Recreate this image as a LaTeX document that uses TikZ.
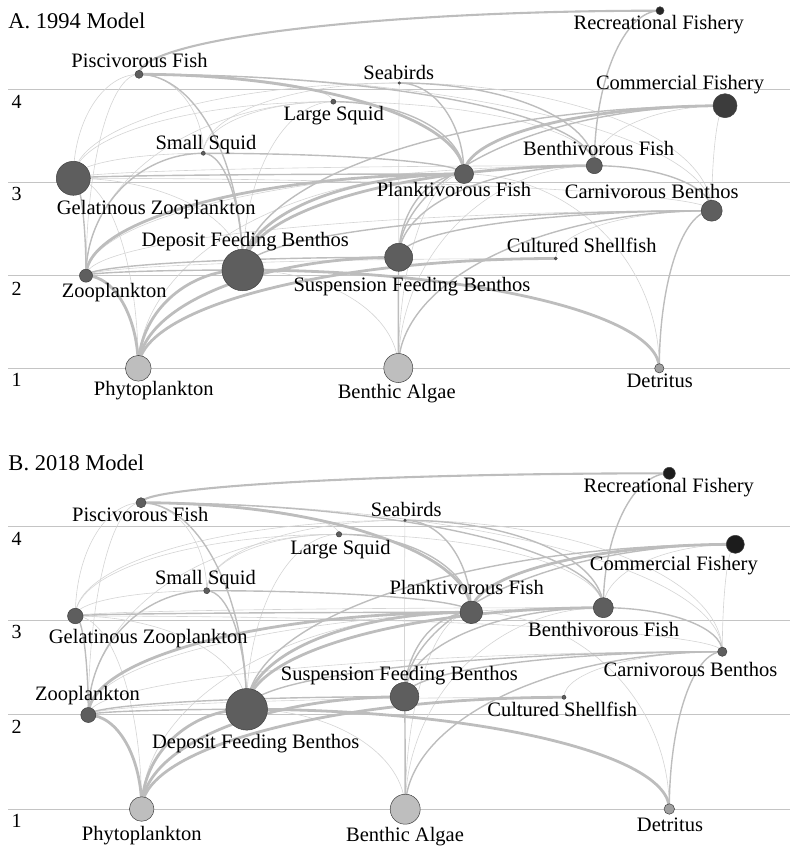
\documentclass[tikz,border=0pt]{standalone}
\usepackage{fontspec}
\setmainfont{Liberation Serif}
\usetikzlibrary{calc}
\pgfdeclarelayer{bg}
\pgfsetlayers{bg,main}
\definecolor{dk}{HTML}{5E5E5E}
\definecolor{lt}{HTML}{BEBEBE}
\definecolor{dt}{HTML}{A0A0A0}
\definecolor{fa}{HTML}{262626}
\definecolor{fb}{HTML}{3C3C3C}
\definecolor{fc}{HTML}{1C1C1C}
\definecolor{edgegrey}{HTML}{BDBDBD}
\definecolor{edgelight}{HTML}{D4D4D4}
\definecolor{lvlgrey}{HTML}{C4C4C4}
\tikzset{
  sp/.style={circle, draw=black!75, line width=0.5pt, inner sep=0pt},
  lbl/.style={inner sep=0pt, anchor=base, font=\fontsize{20.5}{24}\selectfont},
  ttl/.style={inner sep=0pt, anchor=base west, font=\fontsize{22.5}{26}\selectfont},
  lvnum/.style={inner sep=0pt, anchor=base west, font=\fontsize{20}{24}\selectfont},
  lvl/.style={draw=lvlgrey, line width=0.9pt},
  thinE/.style={draw=edgelight, line width=0.6pt},
  medE/.style={draw=edgegrey, line width=1.4pt},
  heavyE/.style={draw=edgegrey, line width=2.1pt},
  thickE/.style={draw=edgegrey, line width=2.8pt},
}
% edge: quarter-ellipse from upper node (leaves horizontally) to lower node (arrives vertically)
\newcommand\fw[3]{%
  \path (#1.center); \pgfgetlastxy{\fwxa}{\fwya}%
  \path (#2.center); \pgfgetlastxy{\fwxb}{\fwyb}%
  \ifdim\fwya>\fwyb\relax
    \draw[#3] (#1.center) .. controls ($(#1.center)!0.55!(#2.center|-#1.center)$) and ($(#2.center)!0.55!(#2.center|-#1.center)$) .. (#2.center);%
  \else
    \draw[#3] (#2.center) .. controls ($(#2.center)!0.55!(#1.center|-#2.center)$) and ($(#1.center)!0.55!(#1.center|-#2.center)$) .. (#1.center);%
  \fi}
\newcommand\web[1]{%
 \fw{#1PiF}{#1SS}{thinE}
 \fw{#1PiF}{#1LS}{thinE}
 \fw{#1PiF}{#1GZ}{thinE}
 \fw{#1PiF}{#1Z}{thinE}
 \fw{#1PiF}{#1CB}{thinE}
 \fw{#1CF}{#1BF}{thinE}
 \fw{#1CF}{#1CB}{thinE}
 \fw{#1SB}{#1SFB}{thinE}
 \fw{#1SB}{#1SS}{thinE}
 \fw{#1SB}{#1CB}{thinE}
 \fw{#1SB}{#1GZ}{thinE}
 \fw{#1LS}{#1SS}{thinE}
 \fw{#1LS}{#1DFB}{thinE}
 \fw{#1LS}{#1Z}{thinE}
 \fw{#1LS}{#1BF}{thinE}
 \fw{#1LS}{#1GZ}{thinE}
 \fw{#1SS}{#1GZ}{thinE}
 \fw{#1GZ}{#1P}{thinE}
 \fw{#1BF}{#1GZ}{thinE}
 \fw{#1CB}{#1GZ}{thinE}
 \fw{#1PF}{#1D}{thinE}
 \fw{#1PF}{#1P}{thinE}
 \fw{#1PF}{#1BA}{thinE}
 \fw{#1BF}{#1Z}{thinE}
 \fw{#1BF}{#1BA}{thinE}
 \fw{#1CB}{#1CS}{thinE}
 \fw{#1CB}{#1Z}{thinE}
 \fw{#1CS}{#1Z}{thinE}
 \fw{#1DFB}{#1BA}{thinE}
 \fw{#1GZ}{#1DFB}{thinE}
 \fw{#1BF}{#1RF}{medE}
 \fw{#1CF}{#1SFB}{medE}
 \fw{#1CF}{#1DFB}{medE}
 \fw{#1PiF}{#1DFB}{medE}
 \fw{#1PiF}{#1BF}{medE}
 \fw{#1SB}{#1PF}{medE}
 \fw{#1SB}{#1BF}{medE}
 \fw{#1LS}{#1PF}{medE}
 \fw{#1SS}{#1Z}{medE}
 \fw{#1SS}{#1DFB}{medE}
 \fw{#1SS}{#1PF}{medE}
 \fw{#1GZ}{#1Z}{medE}
 \fw{#1PF}{#1GZ}{medE}
 \fw{#1PF}{#1SFB}{medE}
 \fw{#1BF}{#1SFB}{medE}
 \fw{#1BF}{#1CB}{medE}
 \fw{#1CB}{#1DFB}{medE}
 \fw{#1CB}{#1SFB}{medE}
 \fw{#1CB}{#1D}{medE}
 \fw{#1CB}{#1BA}{medE}
 \fw{#1DFB}{#1Z}{medE}
 \fw{#1SFB}{#1Z}{medE}
 \fw{#1SFB}{#1BA}{medE}
 \fw{#1PiF}{#1RF}{heavyE}
 \fw{#1CF}{#1PF}{thickE}
 \fw{#1PiF}{#1PF}{thickE}
 \fw{#1PF}{#1Z}{thickE}
 \fw{#1PF}{#1DFB}{thickE}
 \fw{#1BF}{#1DFB}{thickE}
 \fw{#1Z}{#1P}{thickE}
 \fw{#1DFB}{#1P}{thickE}
 \fw{#1DFB}{#1D}{thickE}
 \fw{#1SFB}{#1P}{thickE}
 \fw{#1CS}{#1P}{thickE}
}
\begin{document}
\begin{tikzpicture}[x=1pt,y=-1pt]
\useasboundingbox (0,0) rectangle (790,849);
% ---------- Panel A nodes ----------
\node[sp, fill=dk, minimum size=8pt]    (APiF) at (139,74.3) {};
\node[sp, fill=dk, minimum size=5pt]    (ALS)  at (333.3,101.7) {};
\node[sp, fill=dk, minimum size=4pt]    (ASS)  at (203.3,153.3) {};
\node[sp, fill=dk, minimum size=34pt]   (AGZ)  at (73.3,178.3) {};
\node[sp, fill=dk, minimum size=2.6pt]  (ASB)  at (399.3,83) {};
\node[sp, fill=fa, minimum size=8pt]    (ARF)  at (660,10.7) {};
\node[sp, fill=fb, minimum size=24pt]   (ACF)  at (725,105.7) {};
\node[sp, fill=dk, minimum size=16pt]   (ABF)  at (594.3,165.7) {};
\node[sp, fill=dk, minimum size=19pt]   (APF)  at (464,174) {};
\node[sp, fill=dk, minimum size=21pt]   (ACB)  at (711.7,210.7) {};
\node[sp, fill=dk, minimum size=3pt]    (ACS)  at (555.7,258.5) {};
\node[sp, fill=dk, minimum size=28pt]   (ASFB) at (398.7,257.3) {};
\node[sp, fill=dk, minimum size=41.5pt] (ADFB) at (242.7,270) {};
\node[sp, fill=dk, minimum size=13pt]   (AZ)   at (86,275.7) {};
\node[sp, fill=lt, minimum size=25.7pt] (AP)   at (138.3,368.3) {};
\node[sp, fill=lt, minimum size=29pt]   (ABA)  at (398.3,368) {};
\node[sp, fill=dt, minimum size=9.3pt]  (AD)   at (659.3,368.3) {};
% ---------- Panel B nodes ----------
\node[sp, fill=dk, minimum size=10pt]   (BPiF) at (141,502.7) {};
\node[sp, fill=dk, minimum size=5.4pt]  (BLS)  at (339,534.3) {};
\node[sp, fill=dk, minimum size=6pt]    (BSS)  at (206.7,590.7) {};
\node[sp, fill=dk, minimum size=15.5pt] (BGZ)  at (75.3,616) {};
\node[sp, fill=dk, minimum size=2.6pt]  (BSB)  at (405,520.3) {};
\node[sp, fill=fc, minimum size=12pt]   (BRF)  at (669.3,473.3) {};
\node[sp, fill=fc, minimum size=18pt]   (BCF)  at (735.3,544.3) {};
\node[sp, fill=dk, minimum size=22.6pt] (BPF)  at (471.3,612.3) {};
\node[sp, fill=dk, minimum size=20pt]   (BBF)  at (603.3,607.7) {};
\node[sp, fill=dk, minimum size=9.3pt]  (BCB)  at (722.3,651.7) {};
\node[sp, fill=dk, minimum size=4pt]    (BCS)  at (564,697.3) {};
\node[sp, fill=dk, minimum size=28.6pt] (BSFB) at (404.5,696.7) {};
\node[sp, fill=dk, minimum size=41.6pt] (BDFB) at (246.7,709.3) {};
\node[sp, fill=dk, minimum size=15pt]   (BZ)   at (88.3,715) {};
\node[sp, fill=lt, minimum size=24.5pt] (BP)   at (141.7,809) {};
\node[sp, fill=lt, minimum size=30pt]   (BBA)  at (405.2,809.2) {};
\node[sp, fill=dt, minimum size=10.5pt] (BD)   at (669.3,809) {};
% ---------- background: level lines and links ----------
\begin{pgfonlayer}{bg}
  \foreach \yy in {89.3,182.7,275,368.3,526,620,714.3,809.3}
    \draw[lvl] (8.3,\yy) -- (790,\yy);
  \web{A}
  \web{B}
\end{pgfonlayer}
% ---------- titles and level numbers ----------
\node[ttl] (tA) at (8.3,28.3) {A. 1994 Model};
\node[ttl] (tB) at (8.3,470) {B. 2018 Model};
\node[lvnum] (nA4) at (11.5,108.3) {4};
\node[lvnum] (nA3) at (11.5,200) {3};
\node[lvnum] (nA2) at (11.5,295) {2};
\node[lvnum] (nA1) at (11.5,386.7) {1};
\node[lvnum] (nB4) at (11.5,545) {4};
\node[lvnum] (nB3) at (11.5,638.3) {3};
\node[lvnum] (nB2) at (11.5,733.3) {2};
\node[lvnum] (nB1) at (11.5,827.3) {1};
% ---------- Panel A labels ----------
\node[lbl] (lAPiF) at (139.5,67) {Piscivorous Fish};
\node[lbl] (lALS)  at (333.7,120) {Large Squid};
\node[lbl] (lASS)  at (206,149.3) {Small Squid};
\node[lbl] (lASB)  at (398.7,79) {Seabirds};
\node[lbl] (lARF)  at (658.7,29) {Recreational Fishery};
\node[lbl] (lACF)  at (680,89) {Commercial Fishery};
\node[lbl] (lABF)  at (598.7,155) {Benthivorous Fish};
\node[lbl] (lAPF)  at (454,196.7) {Planktivorous Fish};
\node[lbl] (lACB)  at (651.7,198.3) {Carnivorous Benthos};
\node[lbl] (lACS)  at (581.7,252.3) {Cultured Shellfish};
\node[lbl] (lASFB) at (412,291.7) {Suspension Feeding Benthos};
\node[lbl] (lADFB) at (245.3,246) {Deposit Feeding Benthos};
\node[lbl] (lAGZ)  at (156.3,214) {Gelatinous Zooplankton};
\node[lbl] (lAZ)   at (114.3,297.3) {Zooplankton};
\node[lbl] (lAP)   at (153.7,395) {Phytoplankton};
\node[lbl] (lABA)  at (396.7,398.3) {Benthic Algae};
\node[lbl] (lAD)   at (659.7,387.3) {Detritus};
% ---------- Panel B labels ----------
\node[lbl] (lBPiF) at (140.2,521.7) {Piscivorous Fish};
\node[lbl] (lBLS)  at (340.5,554) {Large Squid};
\node[lbl] (lBSS)  at (205.5,584) {Small Squid};
\node[lbl] (lBGZ)  at (148.3,643.3) {Gelatinous Zooplankton};
\node[lbl] (lBSB)  at (406.2,516.7) {Seabirds};
\node[lbl] (lBRF)  at (668.8,492.7) {Recreational Fishery};
\node[lbl] (lBCF)  at (673.8,570.7) {Commercial Fishery};
\node[lbl] (lBPF)  at (466.7,594) {Planktivorous Fish};
\node[lbl] (lBBF)  at (603.7,636.7) {Benthivorous Fish};
\node[lbl] (lBCB)  at (690.5,676) {Carnivorous Benthos};
\node[lbl] (lBCS)  at (562.2,716.7) {Cultured Shellfish};
\node[lbl] (lBSFB) at (399.3,680) {Suspension Feeding Benthos};
\node[lbl] (lBDFB) at (255.8,748.3) {Deposit Feeding Benthos};
\node[lbl] (lBZ)   at (87.5,700) {Zooplankton};
\node[lbl] (lBP)   at (141.7,840) {Phytoplankton};
\node[lbl] (lBBA)  at (405,841.7) {Benthic Algae};
\node[lbl] (lBD)   at (670,831.7) {Detritus};
\end{tikzpicture}
\end{document}
